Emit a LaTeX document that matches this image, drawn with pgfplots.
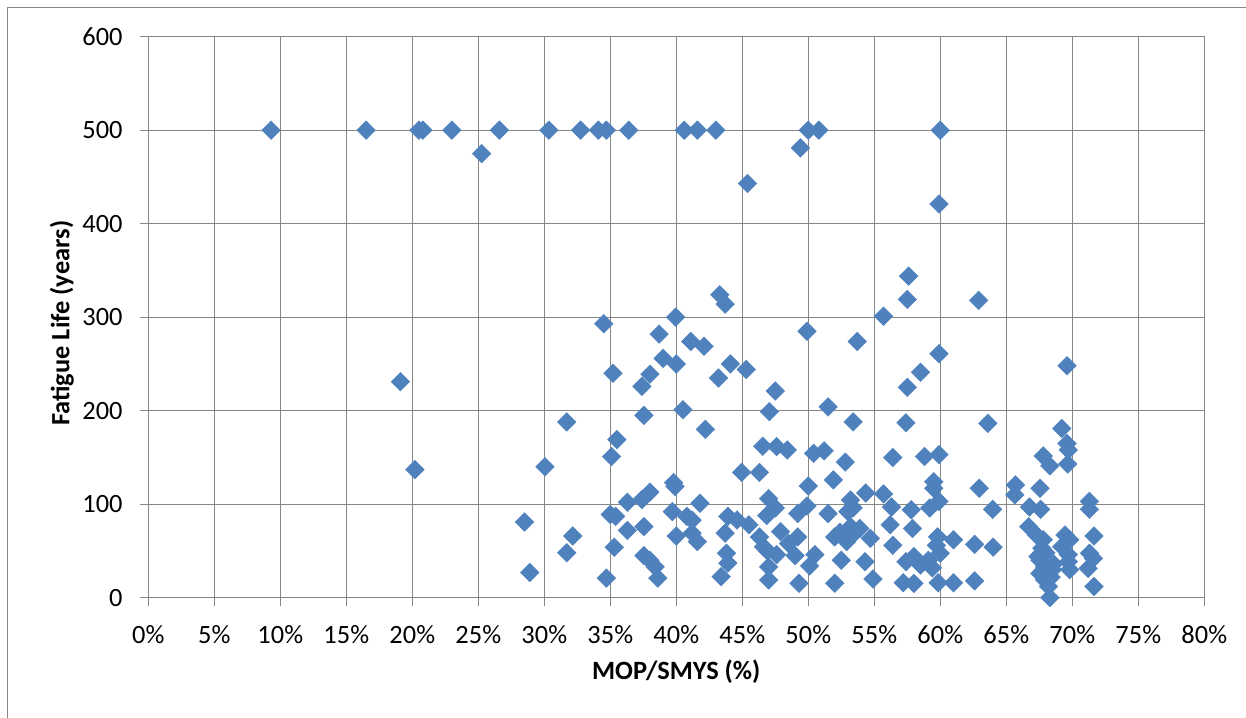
\documentclass[border=0pt]{standalone}
\usepackage{pgfplots}
\pgfplotsset{compat=1.18}
\usepackage{fontspec}
\setmainfont{Carlito}
\definecolor{markblue}{RGB}{79,129,189}
\definecolor{gridgray}{RGB}{134,134,134}
\newcommand{\chartfont}{\fontsize{13.2}{15.5}\selectfont}

% MOP/SMYS (%) versus predicted fatigue life (years)
\pgfplotstableread{
x y
9.3 500
16.5 500
20.5 500
20.8 500
23.0 500
26.6 500
30.35 500
32.75 500
34.1 500
34.7 500
36.4 500
40.6 500
41.6 500
43.0 500
50.0 500
50.8 500
60.0 500
25.25 475
45.4 443
49.4 481
59.9 421
19.1 231
20.2 137
28.5 81
28.9 27
30.05 140
31.7 188
32.15 66
31.7 48
34.5 293
39.95 300
38.7 282
41.1 274
42.1 269
39.0 256
40.0 250
35.2 240
38.0 239
37.4 226
37.55 195
40.5 201
42.2 180
35.5 169
35.1 151
39.8 123
39.9 119
41.8 101
38.0 113
37.4 105
36.3 102
35.0 89
35.4 87
39.7 92
40.8 87
41.2 83
36.3 72
37.55 76
40.0 66
41.2 69
41.6 60
35.3 54
37.55 45
38.0 40
38.4 33
38.6 21
34.7 21
43.3 324
43.7 314
49.9 285
53.7 274
44.1 250
45.3 244
43.2 235
47.5 221
47.05 199
51.5 204
53.4 188
46.55 162
47.6 161.5
48.4 158
50.4 154.4
51.2 157
52.8 145
44.95 134
46.3 134
50.0 119.5
51.9 126
47.0 106
47.5 96
46.85 88
49.9 98
49.2 90
51.5 90
53.2 104.5
53.0 92
43.9 87
44.6 83
45.5 78
43.7 69
46.3 65
47.9 70.6
49.2 65
46.6 54.5
46.9 50
47.6 46
48.5 58
49.0 45
50.5 46
43.8 47.5
43.9 37
43.4 22.5
47.0 33
47.0 19
50.1 34
49.3 15.4
52.0 15.4
52.5 40
52.0 65
52.4 70
52.9 60
53.2 65
57.6 344
57.5 319
62.9 318
55.7 301
59.9 261
58.5 241
57.5 225
57.4 187
63.6 186.5
56.4 150
58.8 151
59.9 153
59.5 124
59.5 117
62.95 117
54.35 112
55.7 111
56.3 97
57.8 94
59.2 96
59.9 103
63.97 94.5
53.4 96
53.2 76
53.9 74
54.7 63.5
56.2 78
56.4 56
57.9 74
59.8 65
59.7 56
60.0 47.5
61.0 62
62.6 57
64.0 54
54.3 38.5
57.4 38.5
58.0 44
58.5 35
59.1 40
59.4 32
54.9 20
57.2 16
58.0 15.4
59.85 16
61.0 16
62.6 18
69.6 248
69.2 181
69.6 165
69.7 158
67.8 151.5
68.3 141
69.65 143
65.7 120.5
65.65 110
67.55 117
66.75 97
67.6 94.5
71.3 103
71.3 94.5
66.7 76
67.3 67
67.8 62
67.7 53
67.4 44
68.0 48
68.6 36
68.4 22
68.5 30
69.45 67
69.8 62
69.2 54.5
71.65 66
69.7 46
69.7 38.5
69.8 30
71.3 47.5
71.6 42
71.2 31.4
67.55 40
67.9 33
67.55 26
67.9 19
68.2 12
68.3 0
71.65 12
}\fatigue

\begin{document}
\chartfont
\begin{tikzpicture}[x=1pt,y=1pt]
\useasboundingbox (0,0) rectangle (623,358.5);
\clip (0,0) rectangle (623,358.5);
% chart area frame
\draw[gridgray, line width=0.7pt] (3.75,-20) rectangle (700,354.75);
\begin{axis}[
  at={(74.15pt,59.65pt)}, anchor=south west,
  scale only axis, width=528pt, height=280.5pt,
  xmin=0, xmax=80, ymin=0, ymax=600,
  xtick={0,5,...,80}, ytick={0,100,...,600},
  xticklabels={0\%,5\%,10\%,15\%,20\%,25\%,30\%,35\%,40\%,45\%,50\%,55\%,60\%,65\%,70\%,75\%,80\%},
  /pgf/number format/assume math mode=true,
  tick label style={font=\chartfont},
  xticklabel style={anchor=north, inner sep=0pt, yshift=-9.5pt},
  yticklabel style={anchor=east, inner sep=0pt, xshift=-8.65pt},
  grid=major,
  major grid style={gridgray, line width=0.65pt},
  axis line style={gridgray, line width=0.65pt},
  tick style={gridgray, line width=0.65pt},
  major tick length=4pt, tick align=outside, tick pos=left,
  clip=false,
  xlabel={MOP/SMYS (\%)},
  ylabel={Fatigue Life (years)},
  every axis x label/.style={at={(rel axis cs:0.5,0)}, anchor=center, yshift=-37.2pt, font=\chartfont\bfseries},
  every axis y label/.style={at={(rel axis cs:0,0.5)}, anchor=center, xshift=-43.2pt, yshift=-3pt, rotate=90, font=\chartfont\bfseries},
]
\addplot[markblue, only marks, mark=square*, mark size=3.3pt,
  mark options={rotate=45, fill=markblue, draw=markblue, line width=0.2pt}]
  table[x=x, y=y] {\fatigue};
\end{axis}
\end{tikzpicture}
\end{document}
